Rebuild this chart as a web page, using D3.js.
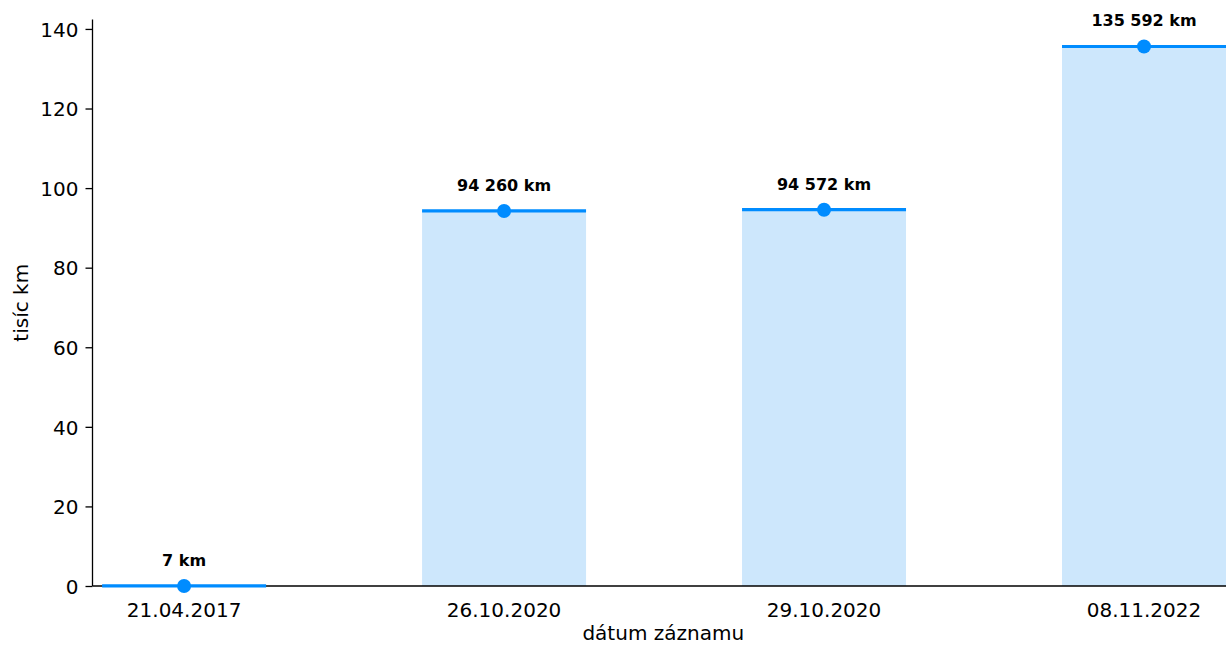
<!DOCTYPE html>
<html>
<head>
<meta charset="utf-8">
<script src="https://cdn.jsdelivr.net/npm/d3@7"></script>
<style>
  html, body { margin: 0; padding: 0; background: #fff; }
  svg { display: block; font-family: "DejaVu Sans", sans-serif; }
</style>
</head>
<body>
<svg id="chart" width="1226" height="645"></svg>
<script>
// Odometer readings by record date (thousands of km)
const dates = ["21.04.2017", "26.10.2020", "29.10.2020", "08.11.2022"];
const mileage = [0.007, 94.260, 94.572, 135.592];
const yTicks = [0, 20, 40, 60, 80, 100, 120, 140];
const xTitle = "dátum záznamu";
const yTitle = "tisíc km";

const W = 1226, H = 645;
const plot = { left: 92.5, right: 1235.6, top: 19.5, bottom: 586 };

const svg = d3.select("#chart");

const x = d3.scaleBand()
  .domain(dates)
  .range([plot.left, plot.right])
  .paddingInner(0.4875)
  .paddingOuter(0.03);

const yMax = d3.max(mileage) * 1.05;
const y = d3.scaleLinear()
  .domain([0, yMax])
  .range([plot.bottom, plot.top]);

const fmtKm = v => d3.format(",")(Math.round(v * 1000)).replace(/,/g, " ") + " km";

const rows = dates.map((d, i) => ({ date: d, value: mileage[i] }));

// bars
svg.append("g").selectAll("rect")
  .data(rows)
  .join("rect")
  .attr("x", d => x(d.date))
  .attr("width", x.bandwidth())
  .attr("y", d => y(d.value))
  .attr("height", d => y(0) - y(d.value))
  .attr("fill", "#cde7fc");

// axes
const yAxis = svg.append("g")
  .attr("transform", `translate(${plot.left},0)`)
  .call(d3.axisLeft(y).tickValues(yTicks).tickSize(7).tickPadding(7).tickFormat(d3.format("d")));
yAxis.select(".domain").attr("d", `M0,${plot.top}V${plot.bottom}`).attr("stroke", "#000").attr("stroke-width", 1.3);
yAxis.selectAll(".tick line").attr("stroke", "#000").attr("stroke-width", 1.3);
yAxis.selectAll(".tick text")
  .attr("font-size", 20).attr("font-family", "DejaVu Sans").attr("fill", "#000")
  .attr("dy", "0.36em");

const xAxis = svg.append("g")
  .attr("transform", `translate(0,${plot.bottom})`)
  .call(d3.axisBottom(x).tickSize(0).tickPadding(0));
xAxis.select(".domain").attr("d", `M${plot.left},0H${W}`).attr("stroke", "#000").attr("stroke-width", 1.3);
xAxis.selectAll(".tick text")
  .attr("font-size", 20).attr("font-family", "DejaVu Sans").attr("fill", "#000")
  .attr("y", 30.5).attr("dy", 0);

// top lines, markers and value labels
const marks = svg.append("g");
marks.selectAll("line")
  .data(rows)
  .join("line")
  .attr("x1", d => x(d.date))
  .attr("x2", d => x(d.date) + x.bandwidth())
  .attr("y1", d => y(d.value))
  .attr("y2", d => y(d.value))
  .attr("stroke", "#008cff")
  .attr("stroke-width", 3.2);

marks.selectAll("circle")
  .data(rows)
  .join("circle")
  .attr("cx", d => x(d.date) + x.bandwidth() / 2)
  .attr("cy", d => y(d.value))
  .attr("r", 7)
  .attr("fill", "#008cff");

marks.selectAll("text")
  .data(rows)
  .join("text")
  .attr("x", d => x(d.date) + x.bandwidth() / 2)
  .attr("y", d => y(d.value) - 20)
  .attr("text-anchor", "middle")
  .attr("font-size", 16)
  .attr("font-weight", "bold")
  .attr("fill", "#000")
  .text(d => fmtKm(d.value));

// axis titles
svg.append("text")
  .attr("x", (plot.left + W) / 2 + 4)
  .attr("y", 640)
  .attr("text-anchor", "middle")
  .attr("font-size", 20)
  .text(xTitle);

svg.append("text")
  .attr("transform", `translate(28,${(plot.top + plot.bottom) / 2}) rotate(-90)`)
  .attr("text-anchor", "middle")
  .attr("font-size", 20)
  .text(yTitle);
</script>
</body>
</html>
